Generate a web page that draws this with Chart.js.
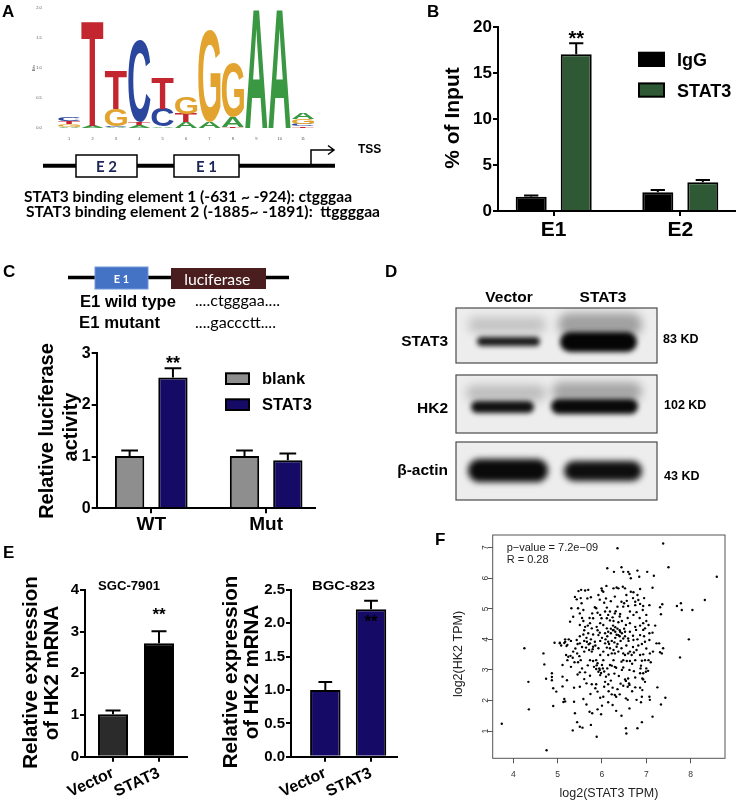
<!DOCTYPE html>
<html>
<head>
<meta charset="utf-8">
<script src="https://cdn.jsdelivr.net/npm/chart.js@4.4.0/dist/chart.umd.min.js"></script>
<style>
  body { margin: 0; background: #fff; }
  #fig { position: relative; width: 737px; height: 802px; overflow: hidden; }
  #fig canvas { position: absolute; left: 0; top: 0; }
</style>
</head>
<body>
<div id="fig">
  <canvas id="bg" width="737" height="802"></canvas>
  <canvas id="logoChart" width="737" height="802"></canvas>
  <canvas id="chipChart" width="737" height="802"></canvas>
  <canvas id="lucChart" width="737" height="802"></canvas>
  <canvas id="sgcChart" width="737" height="802"></canvas>
  <canvas id="bgcChart" width="737" height="802"></canvas>
  <canvas id="corrChart" width="737" height="802"></canvas>
</div>
<script>
// ---- data ----
// A: motif logo, layers stacked from the bottom of each position (bits)
const logoPositions = [1, 2, 3, 4, 5, 6, 7, 8, 9, 10, 11];
const logoLetters = [
  ['A', 'A', 'A', 'A', 'A', 'A', 'A', 'T', 'A', 'A', 'T'],
  ['G', 'T', 'C', 'T', 'C', 'T', 'G', 'A', '', '', 'C'],
  ['T', '', 'G', 'C', 'T', 'G', '', 'G', '', '', 'G'],
  ['C', '', 'T', '', '', '', '', '', '', '', 'A']
];
const logoBits = [
  [0.02, 0.04, 0.02, 0.05, 0.03, 0.10, 0.10, 0.02, 1.99, 1.99, 0.03],
  [0.05, 1.75, 0.02, 0.05, 0.30, 0.14, 1.53, 0.18, 0, 0, 0.04],
  [0.05, 0, 0.29, 1.37, 0.52, 0.28, 0, 0.91, 0, 0, 0.08],
  [0.07, 0, 0.64, 0, 0, 0, 0, 0, 0, 0, 0.10]
];
const logoTicks = [0, 0.5, 1, 1.5, 2];

// B: ChIP-qPCR
const chipGroups = ['E1', 'E2'];
const chipIgG = [1.56, 2.03];
const chipIgGErr = [0.14, 0.26];
const chipStat3 = [17.06, 3.12];
const chipStat3Err = [1.2, 0.25];
const chipTicks = [0, 5, 10, 15, 20];

// C: luciferase
const lucGroups = ['WT', 'Mut'];
const lucBlank = [1.01, 1.01];
const lucBlankErr = [0.11, 0.11];
const lucStat3 = [2.53, 0.93];
const lucStat3Err = [0.18, 0.13];
const lucTicks = [0, 1, 2, 3];

// E: qPCR
const qpcrGroups = ['Vector', 'STAT3'];
const sgcValues = [1.02, 2.72];
const sgcErr = [0.09, 0.29];
const sgcTicks = [0, 1, 2, 3, 4];
const bgcValues = [1.0, 2.21];
const bgcErr = [0.12, 0.13];
const bgcTicks = [0, 0.5, 1, 1.5, 2, 2.5];

// F: correlation, [log2(STAT3 TPM), log2(HK2 TPM)]
const corrPoints = [
  [3.74,1.24],[4.25,3.71],[4.34,2.61],[4.35,1.71],[4.75,0.37],[4.68,3.54],[4.70,3.18],[4.74,2.71],
  [4.87,2.89],[4.87,2.77],[4.87,2.66],[4.90,2.40],[4.97,2.29],[4.90,1.82],[4.93,3.89],[5.05,3.89],
  [5.11,3.16],[5.11,2.78],[5.21,2.66],[5.11,2.46],[5.15,2.05],[5.17,1.97],[5.13,1.95],[5.37,2.42],
  [5.50,2.45],[5.37,1.96],[5.39,1.58],[5.34,1.02],[5.44,1.29],[5.50,1.14],[5.56,1.11],[5.58,2.05],
  [5.65,1.87],[5.75,1.20],[5.72,1.63],[5.78,1.58],[5.74,2.21],[5.90,1.71],[5.88,0.81],[5.90,2.29],
  [5.96,2.09],[6.03,2.12],[6.00,1.83],[5.98,1.55],[6.14,1.94],
  [7.76,3.41],[7.38,3.71],[7.35,3.54],[7.31,3.58],[7.25,2.43],[7.43,2.09],[7.33,1.87],[7.14,1.47],
  [6.90,1.29],[6.80,1.09],[6.54,1.09],[6.55,0.92],[6.44,1.50],[6.32,1.66],[6.24,1.85],[6.62,1.74],
  [6.78,2.02],[6.88,1.94],[7.07,2.12],[7.08,2.02],[6.90,2.12],[6.54,2.07],[6.58,2.02],[6.22,2.20],
  [6.29,2.18],[6.32,2.12],[6.24,2.42],[6.35,2.37],[6.48,2.48],[6.58,2.45],[6.62,2.51],[6.75,2.43],
  [6.86,2.42],[6.91,2.34],[6.52,2.69],[6.54,2.64],[6.59,2.72],[6.61,2.56],[6.93,2.69],[6.97,2.61],
  [6.91,2.72],[6.62,3.00],[6.72,2.96],[6.86,2.89],[6.93,2.89],[6.99,2.94],[7.04,2.97],[6.87,3.05],
  [6.88,3.14],[6.22,3.14],[6.29,3.10],[6.32,3.07],[6.48,3.08],
  [7.38,7.14],[6.35,6.98],[7.50,6.36],[8.59,6.05],[6.27,6.21],[6.44,6.36],[6.48,6.21],[6.59,6.21],
  [6.62,6.14],[6.65,6.00],[6.80,6.25],[6.84,6.05],[7.02,6.21],[7.17,6.08],[6.12,6.33],
  [6.26,5.67],[6.33,5.70],[6.37,5.67],[6.47,5.72],[6.52,5.67],[6.29,5.40],[6.65,5.56],[6.71,5.54],
  [6.80,5.45],[6.86,5.65],[7.14,5.69],
  [6.44,5.23],[6.50,5.18],[6.56,5.26],[6.59,5.09],[6.48,5.07],[6.35,5.07],[6.75,5.23],[6.82,5.29],
  [6.75,5.12],[6.86,5.16],[6.93,5.09],[7.07,5.12],[6.92,4.96],[7.31,5.05],[7.36,5.15],[7.33,4.82],
  [7.69,5.09],[7.78,5.18],[7.80,4.96],[8.04,4.96],[8.32,5.29],
  [6.18,4.91],[6.29,4.85],[6.41,4.83],[6.63,4.91],[6.71,4.80],[6.78,4.89],[6.26,4.60],[6.37,4.56],
  [6.54,4.47],[6.63,4.53],[6.75,4.41],[6.86,4.45],[6.93,4.53],[6.97,4.36],[7.05,4.47],[7.07,4.20],
  [7.14,4.22],[6.86,4.14],[6.93,4.31],[6.77,4.31],[6.63,4.25],[6.52,4.25],[6.41,4.25],[6.26,4.31],
  [6.37,4.14],[6.48,4.03],[6.59,4.03],[6.71,3.98],[6.97,3.92],[7.07,3.98],[7.23,3.87],[7.29,3.87],
  [7.96,4.00],
  [5.69,5.62],[5.67,5.34],[5.75,5.38],[5.92,5.45],[5.99,5.67],[6.03,5.56],[6.09,5.34],[5.54,5.18],
  [5.58,4.96],[5.87,5.02],[5.90,4.87],[6.07,4.91],[6.11,5.04],[5.96,4.80],[6.14,4.80],[5.80,4.69],
  [5.99,4.69],[6.11,4.69],[5.28,4.58],[5.50,4.47],[5.62,4.41],[5.73,4.53],[5.77,4.36],[5.88,4.41],
  [5.96,4.53],[6.03,4.47],[6.11,4.36],[6.14,4.25],[6.07,4.20],[5.92,4.14],[5.80,4.16],[5.69,4.20],
  [5.58,4.16],[5.05,3.87],[5.17,3.92],[5.22,3.82],[5.43,3.98],[5.50,3.87],[5.66,3.92],[5.73,3.87],
  [5.84,3.92],[5.96,3.95],[6.07,3.87],[6.14,3.92],
  [5.31,5.02],[5.35,4.74],[5.39,5.39],[5.43,5.31],[5.47,5.58],[5.53,5.62],
  [5.19,3.49],[5.24,3.43],[5.29,3.46],[5.34,3.40],[5.22,3.32],[5.44,3.54],[5.49,3.45],[5.52,3.32],
  [5.46,3.25],[5.60,3.60],[5.64,3.73],[5.71,3.65],[5.77,3.60],[5.73,3.32],[5.80,3.29],[5.87,3.32],
  [5.90,3.22],[5.82,3.10],[5.87,3.03],[5.94,3.05],[6.00,3.16],[6.03,3.32],[5.96,3.49],[6.03,3.60],
  [5.92,3.71],[5.80,3.76],[6.11,3.73],[6.14,3.49],[6.09,2.78],[5.96,2.83],[6.07,2.61],[5.87,2.53],
  [5.50,2.92],[5.62,2.92],[5.73,2.81],[5.65,2.56],[5.77,2.53],[6.14,2.53],
  [6.18,3.71],[6.26,3.65],[6.33,3.76],[6.37,3.60],[6.44,3.71],[6.29,3.54],[6.22,3.54],[6.48,3.54],
  [6.52,3.49],[6.59,3.54],[6.63,3.60],[6.67,3.49],[6.72,3.57],[6.86,3.49],[6.93,3.51],[7.08,3.54],
  [7.05,3.32],[6.97,3.32],[6.90,3.30],[6.75,3.32],[6.63,3.29],[6.56,3.29],[6.48,3.32],[6.44,3.27],
  [6.26,3.32],[6.18,3.16],
  [6.20,4.35],[6.25,4.30],[6.30,4.40],[6.30,4.25],[6.35,4.35],[6.40,4.30],[6.25,4.45],[6.20,4.20],
  [6.33,4.15],[6.40,4.10],[6.30,4.05],[6.22,3.95],[6.28,3.90],[6.35,3.85],[6.42,3.95],[6.45,4.20],
  [6.50,4.35],[6.18,4.62],[6.24,4.72],[6.31,4.92],[6.12,4.10],[6.08,4.00],[6.16,3.85],[6.00,4.05],
  [5.95,4.22],[5.90,4.30],[5.85,3.80],[5.79,3.68],[5.75,4.00],[5.70,3.84],[5.65,4.05],[5.60,3.95],
  [5.55,3.75],[5.50,4.10],[5.45,3.85],[5.40,3.70],[5.35,3.60],[5.30,3.95],[5.25,4.00],[5.15,3.88],
  [5.60,4.30],[5.68,4.45],[5.72,4.70],[5.78,4.85],[5.84,5.05],[5.55,4.70],[5.50,4.85],[5.46,5.02],
  [5.52,5.35],[5.62,5.60],[5.58,4.60],[5.95,3.00],[5.92,2.94],[5.98,2.90],[6.02,3.05],[5.88,3.15],
  [6.05,2.95],[6.12,3.05],[6.15,2.85],[6.20,2.65],[6.28,2.88],[6.38,2.80],[6.42,2.55],[6.45,3.00],
  [6.68,3.20],[6.78,3.65],[6.82,3.80],[6.70,3.75],[6.55,3.80],[6.60,3.95],[6.52,4.10],[6.70,4.12],
  [6.80,4.00],[6.95,4.10],[6.90,3.85],[7.00,3.70],[7.15,3.60],[7.10,3.25],[7.00,3.05],[6.75,2.75],
  [6.68,2.30],[6.40,2.20],[6.15,2.30],[6.05,2.45],[5.85,2.40],[5.60,2.70],[5.45,2.85],[5.30,3.10],
  [5.38,3.25],[5.55,3.05],[5.68,3.15],[5.08,3.80],[5.17,4.00],[5.20,3.78],[6.45,4.60],[6.58,4.70],
  [6.40,4.75],[6.05,5.20],[6.20,5.25],[6.00,5.60],[6.10,5.75],[5.95,5.30],[6.70,5.35],[6.55,5.45],
  [6.95,5.35],[7.00,4.80],[6.85,4.70],[7.20,4.45],[7.00,4.60]
];
const corrXTicks = [4, 5, 6, 7, 8];
const corrYTicks = [1, 2, 3, 4, 5, 6, 7];

// ---- helpers ----
const W = 737, H = 802;
const ARIAL = '"Liberation Sans", Arial, sans-serif';
Chart.defaults.font.family = ARIAL;
Chart.defaults.color = '#000';

function txt(ctx, s, x, y, o) {
  o = o || {};
  ctx.save();
  ctx.font = o.font || 'bold 14px ' + ARIAL;
  ctx.fillStyle = o.color || '#000';
  ctx.textAlign = o.align || 'left';
  ctx.textBaseline = 'alphabetic';
  ctx.translate(x, y);
  if (o.rot) ctx.rotate(o.rot);
  if (o.w) ctx.scale(o.w / ctx.measureText(s).width, 1);
  ctx.fillText(s, 0, 0);
  ctx.restore();
}

const texts = {
  id: 'texts',
  afterDraw(chart, args, o) {
    (o.items || []).forEach(t => txt(chart.ctx, t.t, t.x, t.y, t));
  }
};

const errorBars = {
  id: 'errorBars',
  afterDatasetsDraw(chart, args, o) {
    const ctx = chart.ctx, ys = chart.scales.y;
    chart.data.datasets.forEach((ds, i) => {
      if (!ds.errors) return;
      chart.getDatasetMeta(i).data.forEach((bar, j) => {
        const top = ys.getPixelForValue(ds.data[j].y + ds.errors[j]);
        const cap = bar.width * o.cap;
        ctx.save();
        ctx.strokeStyle = '#000';
        ctx.lineWidth = 2;
        ctx.beginPath();
        ctx.moveTo(bar.x, bar.y);
        ctx.lineTo(bar.x, top);
        ctx.moveTo(bar.x - cap / 2, top);
        ctx.lineTo(bar.x + cap / 2, top);
        ctx.stroke();
        if (ds.stars && ds.stars[j]) {
          ctx.font = o.starFont;
          ctx.fillStyle = '#000';
          ctx.textAlign = 'center';
          ctx.fillText(ds.stars[j], bar.x, top + o.starShift);
        }
        ctx.restore();
      });
    });
  }
};

const boxLegend = {
  id: 'boxLegend',
  afterDraw(chart, args, o) {
    if (!o || o.x === undefined) return;
    const ctx = chart.ctx;
    chart.data.datasets.forEach((ds, i) => {
      const y = o.y + i * o.gap;
      ctx.save();
      ctx.fillStyle = ds.backgroundColor;
      ctx.fillRect(o.x, y, o.w, o.h);
      ctx.strokeStyle = '#000';
      ctx.lineWidth = 2;
      ctx.strokeRect(o.x, y, o.w, o.h);
      ctx.font = o.font;
      ctx.fillStyle = '#000';
      ctx.fillText(ds.label, o.tx, y + o.h);
      ctx.restore();
    });
  }
};

function prismBars(id, o) {
  const [L, T, R, B] = o.area;
  const axisGrid = { drawOnChartArea: false, drawTicks: true, tickLength: 5, lineWidth: 2, color: '#000', offset: false };
  return new Chart(document.getElementById(id), {
    type: 'bar',
    data: { datasets: o.datasets },
    options: {
      responsive: false, animation: false, devicePixelRatio: 1,
      layout: { autoPadding: false, padding: { top: T, right: W - R, left: 0, bottom: 0 } },
      plugins: {
        legend: { display: false }, tooltip: { enabled: false },
        errorBars: o.err, boxLegend: o.legend || {}, texts: { items: o.texts }
      },
      scales: {
        x: {
          type: 'linear', offset: false, min: o.xMin, max: o.xMax,
          afterBuildTicks: s => { s.ticks = o.groups.map((g, i) => ({ value: i + 1 })); },
          afterFit: s => { s.height = H - B; },
          grid: axisGrid, border: { color: '#000', width: 2 },
          ticks: {
            font: o.xFont, color: '#000', padding: o.xPad, autoSkip: false,
            minRotation: o.rot || 0, maxRotation: o.rot || 0,
            callback: v => o.groups[v - 1]
          }
        },
        y: {
          min: o.yTicks[0], max: o.yTicks[o.yTicks.length - 1],
          afterBuildTicks: s => { s.ticks = o.yTicks.map(v => ({ value: v })); },
          afterFit: s => { s.width = L; },
          grid: axisGrid, border: { color: '#000', width: 2 },
          ticks: { font: o.yFont, color: '#000', padding: 1, callback: o.yFmt || (v => v) }
        }
      }
    },
    plugins: [errorBars, boxLegend, texts]
  });
}

function points(groups, vals) {
  return groups.map((g, i) => ({ x: i + 1, y: vals[i] }));
}

// ---- A: sequence logo ----
const logoColors = { A: '#3a9742', C: '#2a479d', G: '#e2a42f', T: '#c3262f' };
const logoGlyphs = {
  id: 'logoGlyphs',
  afterDatasetsDraw(chart) {
    const ctx = chart.ctx;
    chart.data.datasets.forEach((ds, k) => {
      chart.getDatasetMeta(k).data.forEach((bar, i) => {
        const letter = ds.letters[i], h = bar.base - bar.y;
        if (!letter || h < 0.4) return;
        ctx.save();
        ctx.font = 'bold 100px ' + ARIAL;
        const m = ctx.measureText(letter);
        const gw = m.actualBoundingBoxLeft + m.actualBoundingBoxRight;
        const gh = m.actualBoundingBoxAscent + m.actualBoundingBoxDescent;
        const sx = bar.width / gw, sy = h / gh;
        ctx.translate(bar.x - bar.width / 2 + m.actualBoundingBoxLeft * sx, bar.y + m.actualBoundingBoxAscent * sy);
        ctx.scale(sx, sy);
        ctx.fillStyle = logoColors[letter];
        ctx.fillText(letter, 0, 0);
        ctx.restore();
      });
    });
  }
};

new Chart(document.getElementById('logoChart'), {
  type: 'bar',
  data: {
    datasets: logoLetters.map((letters, k) => ({
      data: points(logoPositions, logoBits[k]),
      letters: letters,
      backgroundColor: 'rgba(0,0,0,0)', borderWidth: 0,
      categoryPercentage: 1, barPercentage: 0.95
    }))
  },
  options: {
    responsive: false, animation: false, devicePixelRatio: 1,
    layout: { autoPadding: false, padding: { top: 8.3, right: W - 326.4, left: 0, bottom: 0 } },
    plugins: {
      legend: { display: false }, tooltip: { enabled: false },
      texts: { items: [{ t: 'Bits', x: 35, y: 68, font: '4px ' + ARIAL, color: '#555', align: 'center', rot: -Math.PI / 2 }] }
    },
    scales: {
      x: {
        type: 'linear', stacked: true, offset: false, min: 0, max: 12,
        afterBuildTicks: s => { s.ticks = logoPositions.map(v => ({ value: v })); },
        afterFit: s => { s.height = H - 128.3; },
        grid: { display: false, drawTicks: false, offset: false }, border: { display: false },
        ticks: { font: { size: 4 }, color: '#555', padding: 8, autoSkip: false, maxRotation: 0 }
      },
      y: {
        stacked: true, min: 0, max: 2,
        afterBuildTicks: s => { s.ticks = logoTicks.map(v => ({ value: v })); },
        afterFit: s => { s.width = 45.8; },
        grid: { display: false, drawTicks: false }, border: { display: false },
        ticks: { font: { size: 4 }, color: '#555', padding: 4, callback: v => v.toFixed(1) }
      }
    }
  },
  plugins: [logoGlyphs, texts]
});

// ---- B: ChIP ----
prismBars('chipChart', {
  area: [498, 27.3, 735, 211], xMin: 0.56, xMax: 2.432,
  groups: chipGroups, yTicks: chipTicks,
  xFont: { size: 21, weight: 'bold' }, yFont: { size: 17, weight: 'bold' }, xPad: 2,
  datasets: [
    { label: 'IgG', data: points(chipGroups, chipIgG), errors: chipIgGErr, stars: ['', ''],
      backgroundColor: '#000000', borderColor: '#000', borderWidth: 2, categoryPercentage: 0.711, barPercentage: 0.689 },
    { label: 'STAT3', data: points(chipGroups, chipStat3), errors: chipStat3Err, stars: ['**', ''],
      backgroundColor: '#2e5934', borderColor: '#000', borderWidth: 2, categoryPercentage: 0.711, barPercentage: 0.689 }
  ],
  err: { cap: 0.46, starFont: 'bold 20px ' + ARIAL, starShift: 1.5 },
  legend: { x: 639, y: 52.7, w: 25, h: 13.3, gap: 30.7, tx: 677, font: 'bold 18px ' + ARIAL },
  texts: [{ t: '% of Input', x: 459, y: 118, font: 'bold 21px ' + ARIAL, align: 'center', rot: -Math.PI / 2 }]
});

// ---- C: luciferase ----
prismBars('lucChart', {
  area: [96.7, 353.3, 315, 508.3], xMin: 0.525, xMax: 2.425,
  groups: lucGroups, yTicks: lucTicks,
  xFont: { size: 19, weight: 'bold' }, yFont: { size: 16, weight: 'bold' }, xPad: 0,
  datasets: [
    { label: 'blank', data: points(lucGroups, lucBlank), errors: lucBlankErr, stars: ['', ''],
      backgroundColor: '#8e8e8e', borderColor: '#000', borderWidth: 2, categoryPercentage: 0.754, barPercentage: 0.677 },
    { label: 'STAT3', data: points(lucGroups, lucStat3), errors: lucStat3Err, stars: ['**', ''],
      backgroundColor: '#150a66', borderColor: '#000', borderWidth: 2, categoryPercentage: 0.754, barPercentage: 0.677 }
  ],
  err: { cap: 0.57, starFont: 'bold 18px ' + ARIAL, starShift: 1 },
  legend: { x: 226, y: 373.3, w: 23, h: 10.7, gap: 26, tx: 262, font: 'bold 16.5px ' + ARIAL },
  texts: [
    { t: 'Relative luciferase', x: 53, y: 431, font: 'bold 20px ' + ARIAL, align: 'center', rot: -Math.PI / 2 },
    { t: 'activity', x: 77, y: 427, font: 'bold 20px ' + ARIAL, align: 'center', rot: -Math.PI / 2 }
  ]
});

// ---- E: qPCR ----
prismBars('sgcChart', {
  area: [85, 590, 187, 756.7], xMin: 0.391, xMax: 2.609,
  groups: qpcrGroups, yTicks: sgcTicks, rot: 25,
  xFont: { size: 16, weight: 'bold' }, yFont: { size: 15, weight: 'bold' }, xPad: 2,
  datasets: [
    { label: 'SGC-7901', data: points(qpcrGroups, sgcValues), errors: sgcErr, stars: ['', '**'],
      backgroundColor: ['#2b2b2b', '#000000'], borderColor: '#000', borderWidth: 2, categoryPercentage: 1, barPercentage: 0.652 }
  ],
  err: { cap: 0.5, starFont: 'bold 17px ' + ARIAL, starShift: -11 },
  texts: [
    { t: 'SGC-7901', x: 98, y: 590, w: 62, font: 'bold 13px ' + ARIAL },
    { t: 'Relative expression', x: 36.7, y: 672.5, font: 'bold 20.5px ' + ARIAL, align: 'center', rot: -Math.PI / 2 },
    { t: 'of HK2 mRNA', x: 58.3, y: 673, font: 'bold 20.5px ' + ARIAL, align: 'center', rot: -Math.PI / 2 }
  ]
});

prismBars('bgcChart', {
  area: [291, 590, 396.7, 756.7], xMin: 0.249, xMax: 2.562,
  groups: qpcrGroups, yTicks: bgcTicks, rot: 25, yFmt: v => v.toFixed(1),
  xFont: { size: 16, weight: 'bold' }, yFont: { size: 15, weight: 'bold' }, xPad: 2,
  datasets: [
    { label: 'BGC-823', data: points(qpcrGroups, bgcValues), errors: bgcErr, stars: ['', '**'],
      backgroundColor: ['#150a66', '#150a66'], borderColor: '#000', borderWidth: 2, categoryPercentage: 1, barPercentage: 0.667 }
  ],
  err: { cap: 0.45, starFont: 'bold 17px ' + ARIAL, starShift: 26 },
  texts: [
    { t: 'BGC-823', x: 312, y: 590, w: 63, font: 'bold 13px ' + ARIAL },
    { t: 'Relative expression', x: 236.7, y: 672, font: 'bold 20.5px ' + ARIAL, align: 'center', rot: -Math.PI / 2 },
    { t: 'of HK2 mRNA', x: 258.3, y: 672, font: 'bold 20.5px ' + ARIAL, align: 'center', rot: -Math.PI / 2 }
  ]
});

// ---- F: scatter ----
const frame = {
  id: 'frame',
  afterDraw(chart) {
    const { ctx, chartArea: a } = chart;
    const ys = chart.scales.y;
    ctx.save();
    ctx.strokeStyle = '#555';
    ctx.lineWidth = 1;
    ctx.strokeRect(a.left, a.top, a.right - a.left, a.bottom - a.top);
    ctx.restore();
    corrYTicks.forEach(v => txt(ctx, String(v), 488, ys.getPixelForValue(v), {
      font: '8.5px ' + ARIAL, color: '#333', align: 'center', rot: -Math.PI / 2
    }));
  }
};

new Chart(document.getElementById('corrChart'), {
  type: 'scatter',
  data: {
    datasets: [{
      data: corrPoints.map(p => ({ x: p[0], y: p[1] })),
      pointRadius: 1.2, backgroundColor: '#000', borderWidth: 0
    }]
  },
  options: {
    responsive: false, animation: false, devicePixelRatio: 1,
    layout: { autoPadding: false, padding: { top: 535, right: W - 725, left: 0, bottom: 0 } },
    plugins: {
      legend: { display: false }, tooltip: { enabled: false },
      texts: { items: [
        { t: 'p\u2212value = 7.2e\u221209', x: 506.7, y: 550.7, font: '11px ' + ARIAL, color: '#222' },
        { t: 'R = 0.28', x: 506.7, y: 563.3, font: '11px ' + ARIAL, color: '#222' },
        { t: 'log2(STAT3 TPM)', x: 609, y: 796.5, font: '12.5px ' + ARIAL, color: '#222', align: 'center' },
        { t: 'log2(HK2 TPM)', x: 461.5, y: 654, font: '12.5px ' + ARIAL, color: '#222', align: 'center', rot: -Math.PI / 2 }
      ] }
    },
    scales: {
      x: {
        type: 'linear', min: 3.535, max: 8.775,
        afterBuildTicks: s => { s.ticks = corrXTicks.map(v => ({ value: v })); },
        afterFit: s => { s.height = H - 758.3; },
        grid: { drawOnChartArea: false, tickLength: 5, color: '#555', lineWidth: 1 },
        border: { display: false },
        ticks: { font: { size: 8.5 }, color: '#333', padding: 6, autoSkip: false, maxRotation: 0 }
      },
      y: {
        type: 'linear', min: 0.107, max: 7.416,
        afterBuildTicks: s => { s.ticks = corrYTicks.map(v => ({ value: v })); },
        afterFit: s => { s.width = 492.7; },
        grid: { drawOnChartArea: false, tickLength: 5, color: '#555', lineWidth: 1 },
        border: { display: false },
        ticks: { display: false }
      }
    }
  },
  plugins: [frame, texts]
});

// ---- background: panel letters, diagrams, blots ----
const bg = document.getElementById('bg').getContext('2d');
bg.fillStyle = '#fff';
bg.fillRect(0, 0, W, H);
const LATO = 'Lato, "Open Sans", sans-serif';

[['A', 2, 17], ['B', 427, 17], ['C', 3, 277], ['D', 385, 277], ['E', 3, 558], ['F', 435, 545]]
  .forEach(([s, x, y]) => txt(bg, s, x, y, { font: 'bold 17px ' + ARIAL }));

// A: promoter diagram
bg.strokeStyle = '#000';
bg.lineWidth = 4;
bg.beginPath(); bg.moveTo(43, 165.7); bg.lineTo(335, 165.7); bg.stroke();
bg.lineWidth = 1.5;
[[76, 61, 'E 2'], [174, 65, 'E 1']].forEach(([x, w, s]) => {
  bg.fillStyle = '#fff';
  bg.fillRect(x, 155, w, 22);
  bg.strokeRect(x, 155, w, 22);
  txt(bg, s, x + w / 2, 171.5, { font: 'bold 15px ' + LATO, color: '#1c2557', align: 'center' });
});
bg.beginPath();
bg.moveTo(311, 165); bg.lineTo(311, 150); bg.lineTo(334, 150);
bg.moveTo(328, 145.5); bg.lineTo(334, 150); bg.lineTo(328, 154.5);
bg.stroke();
txt(bg, 'TSS', 358, 153, { font: 'bold 12px ' + ARIAL });
txt(bg, 'STAT3 binding element 1 (-631 ~ -924): ctgggaa', 24, 201.7, { font: 'bold 16px ' + LATO, w: 328 });
txt(bg, 'STAT3 binding element 2 (-1885~ -1891):  ttggggaa', 26, 217.3, { font: 'bold 16px ' + LATO, w: 354 });

// C: reporter construct
bg.lineWidth = 3.5;
bg.beginPath(); bg.moveTo(68, 277.5); bg.lineTo(289, 277.5); bg.stroke();
bg.fillStyle = '#4472c4';
bg.fillRect(95, 267, 53, 22);
bg.strokeStyle = '#7096d8'; bg.lineWidth = 1;
bg.strokeRect(95, 267, 53, 22);
txt(bg, 'E 1', 121.5, 282.7, { font: 'bold 11px ' + LATO, color: '#fff', align: 'center' });
bg.fillStyle = '#4a1e1e';
bg.fillRect(171, 268, 95, 21);
txt(bg, 'luciferase', 184.3, 285, { font: '15px ' + LATO, color: '#fff', w: 66 });
txt(bg, 'E1 wild type', 80, 306.7, { font: 'bold 17px ' + ARIAL, w: 96 });
txt(bg, 'E1 mutant', 79, 328.3, { font: 'bold 17px ' + ARIAL, w: 81 });
txt(bg, '....ctgggaa....', 195, 306, { font: '15px ' + LATO, w: 85 });
txt(bg, '....gaccctt....', 195, 328, { font: '15px ' + LATO, w: 81 });

// D: western blot
function blot(x, y, w, h, bands) {
  bg.save();
  bg.beginPath(); bg.rect(x, y, w, h); bg.clip();
  bg.fillStyle = '#ededed';
  bg.fillRect(x, y, w, h);
  bands.forEach(b => {
    bg.save();
    bg.filter = 'blur(' + b[5] + 'px)';
    bg.fillStyle = 'rgba(0,0,0,' + b[4] + ')';
    bg.beginPath();
    bg.roundRect(b[0], b[1], b[2] - b[0], b[3] - b[1], (b[3] - b[1]) / 2);
    bg.fill();
    bg.restore();
  });
  bg.restore();
  bg.strokeStyle = '#4a4a4a';
  bg.lineWidth = 1.2;
  bg.strokeRect(x, y, w, h);
}
blot(456, 308, 201, 55, [
  [468, 317, 546, 333, 0.17, 5], [558, 313, 642, 336, 0.32, 5],
  [477, 337, 540, 346, 0.9, 2.5], [560, 332, 637, 352, 0.98, 2.5]
]);
blot(456, 375, 201, 58, [
  [466, 385, 546, 401, 0.2, 5], [552, 382, 642, 401, 0.3, 5],
  [471, 401, 534, 413, 0.93, 2.5], [551, 399, 638, 414, 0.96, 2.5]
]);
blot(456, 442, 201, 58, [
  [468, 459, 548, 482, 0.96, 3], [564, 461, 642, 481, 0.94, 3]
]);
const dFont = 'bold 15.5px ' + ARIAL;
txt(bg, 'Vector', 509, 301.7, { font: dFont, align: 'center' });
txt(bg, 'STAT3', 603, 301.7, { font: dFont, align: 'center' });
txt(bg, 'STAT3', 448, 346, { font: dFont, align: 'right' });
txt(bg, 'HK2', 448, 412.7, { font: dFont, align: 'right' });
txt(bg, '\u03b2-actin', 448, 475, { font: dFont, align: 'right' });
const kdFont = 'bold 12.5px ' + ARIAL;
txt(bg, '83 KD', 663, 342.7, { font: kdFont });
txt(bg, '102 KD', 664, 409, { font: kdFont });
txt(bg, '43 KD', 664, 480, { font: kdFont });
</script>
</body>
</html>
